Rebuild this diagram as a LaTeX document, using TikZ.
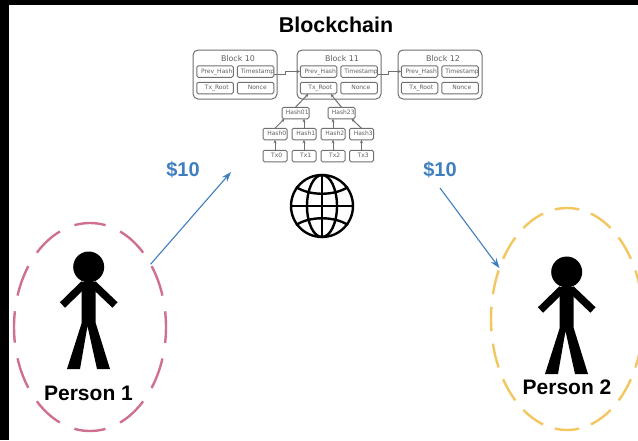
\documentclass[tikz,border=0pt]{standalone}
\usepackage{fontspec}
\setmainfont{Liberation Sans}
\newfontfamily\smallfont{DejaVu Sans}
\usetikzlibrary{arrows.meta,shapes.geometric}
\definecolor{boxgray}{HTML}{707070}
\definecolor{textgray}{HTML}{606060}
\definecolor{moneyblue}{HTML}{3F7FBF}
\definecolor{ringpink}{HTML}{CF7093}
\definecolor{ringyellow}{HTML}{F2C75F}
\newcommand{\stickfigure}{
  \fill[black] (88.7,267) circle (15.5);
  \fill[black] (81.7,282)--(95.7,282)--(95.7,323)--(110,369)--(97,369)--(87.5,326)--(80,369)--(67,369)--(81.7,323)--cycle;
  \draw[line width=7.5pt,black] (84,284)--(62.5,305);
  \draw[line width=7.5pt,black] (93,284)--(115,305);
}
\begin{document}
\begin{tikzpicture}[x=1pt,y=-1pt,
  blockbox/.style={draw=boxgray,line width=1pt,rounded corners=5pt,minimum width=84pt,minimum height=49pt,inner sep=0pt,outer sep=0pt},
  fieldbox/.style={draw=boxgray,line width=1pt,rounded corners=1.5pt,text width=36.5pt,align=center,text height=4.5pt,text depth=1.5pt,minimum height=11.5pt,inner sep=0pt,outer sep=0pt,font=\smallfont\fontsize{6}{6}\selectfont,text=textgray,execute at begin node={\hspace*{3.5pt}}},
  hashbox/.style={fieldbox,text width=24pt},
  blocktitle/.style={font=\smallfont\fontsize{7.9}{8}\selectfont,text=textgray,inner sep=0pt},
  link/.style={draw=boxgray,line width=1pt,-{Stealth[length=3.5pt,width=3pt]}},
  money/.style={font=\bfseries\fontsize{20}{20}\selectfont,text=moneyblue,inner sep=0pt},
  transfer/.style={draw=moneyblue,line width=1.1pt,-{Stealth[length=10pt,width=7pt]}},
  ring/.style={ellipse,line width=2.4pt,inner sep=0pt,outer sep=0pt},
  personname/.style={font=\bfseries\fontsize{21}{21}\selectfont,inner sep=0pt},
  globeline/.style={line width=2.4pt,black}]
\useasboundingbox (0,0) rectangle (638,440);
\clip (0,0) rectangle (638,440);
\fill[black] (0,0) rectangle (638,440);
\fill[white] (9,5) rectangle (638,440);
\node[font=\bfseries\fontsize{21.4}{21}\selectfont,inner sep=0pt] at (336,25) (title) {Blockchain};
% blocks
\node[blockbox] at (235,74.5) (block10) {};
\node[blockbox] at (339,74.5) (block11) {};
\node[blockbox] at (440,74.5) (block12) {};
\node[blocktitle] at (238,59) (name10) {Block 10};
\node[blocktitle] at (342,59) (name11) {Block 11};
\node[blocktitle] at (443,59) (name12) {Block 12};
\node[fieldbox] at (215,71.5) (prev10) {\mbox{Prev\_Hash}};
\node[fieldbox] at (255.5,71.5) (time10) {\mbox{Timestamp}};
\node[fieldbox] at (215,88) (root10) {\mbox{Tx\_Root}};
\node[fieldbox] at (255.5,88) (nonce10) {Nonce};
\node[fieldbox] at (318.5,71.5) (prev11) {\mbox{Prev\_Hash}};
\node[fieldbox] at (359,71.5) (time11) {\mbox{Timestamp}};
\node[fieldbox] at (318.5,88) (root11) {\mbox{Tx\_Root}};
\node[fieldbox] at (359,88) (nonce11) {Nonce};
\node[fieldbox] at (419.5,71.5) (prev12) {\mbox{Prev\_Hash}};
\node[fieldbox] at (460,71.5) (time12) {\mbox{Timestamp}};
\node[fieldbox] at (419.5,88) (root12) {\mbox{Tx\_Root}};
\node[fieldbox] at (460,88) (nonce12) {Nonce};
% merkle tree
\node[hashbox,text width=27pt] at (295.5,113) (hash01) {Hash01};
\node[hashbox,text width=27pt] at (341.5,113) (hash23) {Hash23};
\node[hashbox] at (275,134) (hash0) {Hash0};
\node[hashbox] at (304,134) (hash1) {Hash1};
\node[hashbox] at (333,134) (hash2) {Hash2};
\node[hashbox] at (361.5,134) (hash3) {Hash3};
\node[hashbox] at (275,156) (tx0) {Tx0};
\node[hashbox] at (304,156) (tx1) {Tx1};
\node[hashbox] at (333,156) (tx2) {Tx2};
\node[hashbox] at (361.5,156) (tx3) {Tx3};
\draw[link] ([yshift=-2.5pt]time10.east) -- ++(12,0) |- (prev11.west);
\draw[link] ([yshift=-2.5pt]time11.east) -- ++(11,0) |- (prev12.west);
\draw[link] (hash01.north) -- ([xshift=-10pt]root11.south);
\draw[link] (hash23.north) -- ([xshift=12pt]root11.south);
\draw[link] (hash0.north) -- ([xshift=-11pt]hash01.south);
\draw[link] (hash1.north) -- (hash1.north |- hash01.south);
\draw[link] (hash2.north) -- (hash2.north |- hash23.south);
\draw[link] (hash3.north) -- ([xshift=10pt]hash23.south);
\draw[link] (tx0) -- (hash0);
\draw[link] (tx1) -- (hash1);
\draw[link] (tx2) -- (hash2);
\draw[link] (tx3) -- (hash3);
% globe
\draw[globeline] (322,206) circle (31);
\draw[globeline] (322,206) ellipse (15 and 31);
\draw[globeline] (291,206)--(353,206);
\draw[globeline] (322,175)--(322,237);
\draw[globeline] (296,187) .. controls (310,196) and (334,196) .. (348,187);
\draw[globeline] (296,225) .. controls (310,216) and (334,216) .. (348,225);
% people
\stickfigure
\begin{scope}[shift={(478,5)}]
\stickfigure
\end{scope}
\node[ring,draw=ringpink,dash pattern=on 31.5pt off 15.9pt,dash phase=15.75pt,minimum width=152pt,minimum height=208pt] at (90,327) (person1) {};
\node[ring,draw=ringyellow,dash pattern=on 24.5pt off 12.54pt,dash phase=12.25pt,minimum width=152pt,minimum height=222pt] at (567,319) (person2) {};
\node[personname] at (88.5,393) (name1) {Person 1};
\node[personname] at (567,387) (name2) {Person 2};
% money
\node[money] at (183,170) (moneyleft) {\$10};
\node[money] at (440,170) (moneyright) {\$10};
\coordinate (sent) at (231,172);
\coordinate (paid) at (440,188);
\draw[transfer] (person1.46) -- (sent);
\draw[transfer] (paid) -- (person2.143);
\end{tikzpicture}
\end{document}
